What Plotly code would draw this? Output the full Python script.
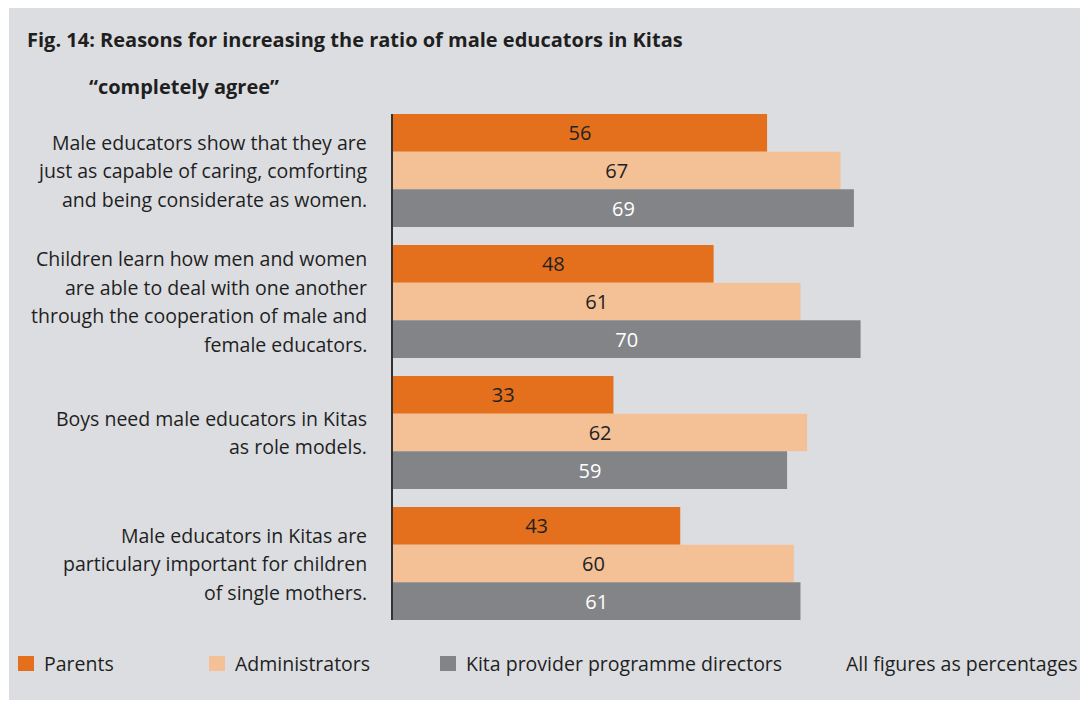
import plotly.graph_objects as go

# data
statements = [
    ['Male educators show that they are',
     'just as capable of caring, comforting',
     'and being considerate as women.'],
    ['Children learn how men and women',
     'are able to deal with one another',
     'through the cooperation of male and',
     'female educators.'],
    ['Boys need male educators in Kitas',
     'as role models.'],
    ['Male educators in Kitas are',
     'particulary important for children',
     'of single mothers.'],
]
series_names = ['Parents', 'Administrators', 'Kita provider programme directors']
parents = [56, 48, 33, 43]
administrators = [67, 61, 62, 60]
directors = [69, 70, 59, 61]

colors = ['#e4701e', '#f4c196', '#838487']
text_colors = ['#222222', '#222222', '#ffffff']
BG = '#dcdde0'
FONT = 'Open Sans'
TXT = '#1f1f1f'

# page has an 8px body margin, so work in screen pixels and shift
OFF = 8
W, H = 1080, 694
L, R, T, B = 393 - OFF, 27, 114 - OFF, 82
PW, PH = W - L - R, H - T - B


def px(x):
    return (x - OFF - L) / PW


def py(y):
    return (H - B - (y - OFF)) / PH


cats = [' '.join(s) for s in statements]
values = [parents, administrators, directors]

fig = go.Figure()
for name, vals, c, tc in zip(series_names, values, colors, text_colors):
    fig.add_trace(go.Bar(
        y=cats, x=vals, name=name, orientation='h',
        marker=dict(color=c, line=dict(width=0)),
        text=vals, textposition='inside', insidetextanchor='middle',
        textangle=0, constraintext='none',
        textfont=dict(family=FONT, size=20, color=tc),
        showlegend=False, hoverinfo='x+name',
    ))

gap = 18 / 131
half = (1 - gap) / 2

fig.update_layout(
    width=W, height=H,
    margin=dict(l=L, r=R, t=T, b=B),
    paper_bgcolor='white',
    plot_bgcolor='rgba(0,0,0,0)',
    barmode='group', bargap=gap, bargroupgap=0,
    font=dict(family=FONT, size=19, color=TXT),
    xaxis=dict(range=[0, 100], showgrid=False, zeroline=False,
               showticklabels=False, showline=False),
    yaxis=dict(categoryorder='array', categoryarray=cats,
               range=[len(cats) - 1 + half, -half],
               showgrid=False, zeroline=False, showticklabels=False,
               showline=True, linecolor='#333333', linewidth=1.5,
               ticks=''),
)

# grey panel
fig.add_shape(type='rect', xref='paper', yref='paper',
              x0=px(9), x1=px(1100), y0=py(700), y1=py(6),
              fillcolor=BG, line=dict(width=0), layer='below')

# category labels, one annotation per line
for i, lines in enumerate(statements):
    n = len(lines)
    for j, line in enumerate(lines):
        fig.add_annotation(
            x=px(369), xref='paper', y=i, yref='y',
            text=line, showarrow=False, xanchor='right', yanchor='middle',
            yshift=-(j - (n - 1) / 2) * 28.5,
            font=dict(family=FONT, size=19.5, color=TXT),
        )

# titles
fig.add_annotation(x=px(25), y=py(40), xref='paper', yref='paper',
                   text='<b>Fig. 14: Reasons for increasing the ratio of male educators in Kitas</b>',
                   showarrow=False, xanchor='left', yanchor='middle',
                   font=dict(family=FONT, size=20, color=TXT))
fig.add_annotation(x=px(87), y=py(86), xref='paper', yref='paper',
                   text='<b>\u201ccompletely agree\u201d</b>',
                   showarrow=False, xanchor='left', yanchor='middle',
                   font=dict(family=FONT, size=20, color=TXT))

# legend drawn by hand
legend_x = [18, 209, 440]
for name, c, lx in zip(series_names, colors, legend_x):
    fig.add_shape(type='rect', xref='paper', yref='paper',
                  x0=px(lx), x1=px(lx + 16), y0=py(671), y1=py(656),
                  fillcolor=c, line=dict(width=0))
    fig.add_annotation(x=px(lx + 24), y=py(663), xref='paper', yref='paper',
                       text=name, showarrow=False, xanchor='left', yanchor='middle',
                       font=dict(family=FONT, size=19.5, color=TXT))
fig.add_annotation(x=px(1079), y=py(663), xref='paper', yref='paper',
                   text='All figures as percentages', showarrow=False,
                   xanchor='right', yanchor='middle',
                   font=dict(family=FONT, size=19.5, color=TXT))

fig.write_html('out.html')
